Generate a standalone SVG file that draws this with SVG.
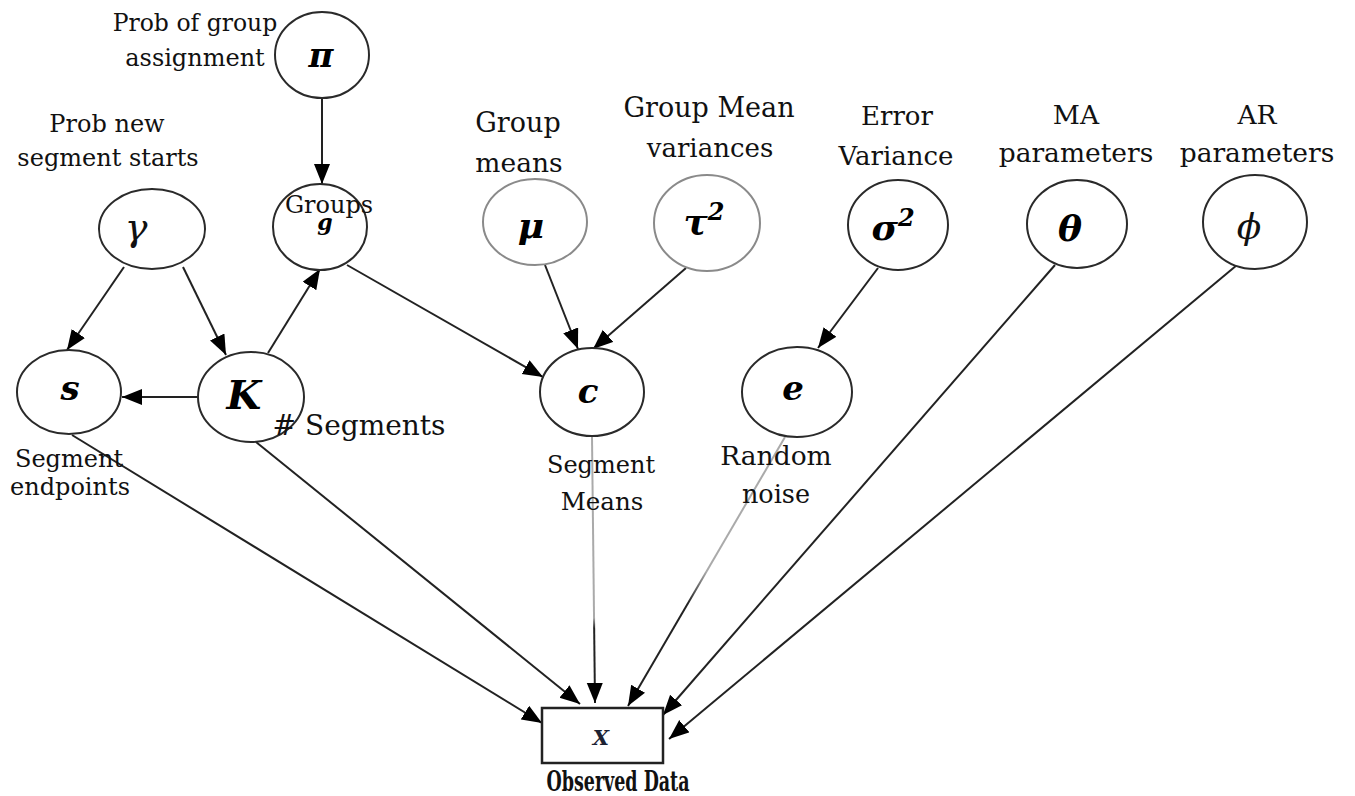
<svg xmlns="http://www.w3.org/2000/svg" width="1355" height="796" viewBox="0 0 1355 796">
<style>
.node{fill:#fff;stroke:#2a2a2a;stroke-width:2}
.light{stroke:#8a8a8a}
.lbl{font-family:"DejaVu Serif","Liberation Serif",serif;fill:#111;text-anchor:middle}
.sym{font-family:"DejaVu Serif","Liberation Serif",serif;font-weight:bold;font-style:italic;fill:#000;text-anchor:middle}
.edge{stroke:#222;stroke-width:2;fill:none;marker-end:url(#arr)}
</style>
<defs>
<marker id="arr" markerUnits="userSpaceOnUse" markerWidth="21" markerHeight="17" refX="20" refY="8" orient="auto">
<path d="M0,0 L20,8 L0,16 z" fill="#000"/>
</marker>
<linearGradient id="gc" gradientUnits="userSpaceOnUse" x1="592" y1="437" x2="595" y2="703">
<stop offset="0" stop-color="#aaa"/><stop offset="0.68" stop-color="#aaa"/><stop offset="0.72" stop-color="#222"/><stop offset="1" stop-color="#222"/>
</linearGradient>
<linearGradient id="ge" gradientUnits="userSpaceOnUse" x1="785" y1="437" x2="628" y2="706">
<stop offset="0" stop-color="#aaa"/><stop offset="0.5" stop-color="#aaa"/><stop offset="0.62" stop-color="#222"/><stop offset="1" stop-color="#222"/>
</linearGradient>
</defs>
<rect width="1355" height="796" fill="#fff"/>
<g id="connectors">
<line class="edge" x1="322" y1="98" x2="322" y2="184"/>
<line class="edge" x1="124" y1="267" x2="67" y2="350"/>
<line class="edge" x1="183" y1="267" x2="226" y2="355"/>
<line class="edge" x1="198" y1="397" x2="122" y2="397"/>
<line class="edge" x1="268" y1="353" x2="320" y2="269"/>
<line class="edge" x1="347" y1="265" x2="543" y2="377"/>
<line class="edge" x1="545" y1="265" x2="578" y2="349"/>
<line class="edge" x1="686" y1="268" x2="593" y2="349"/>
<line class="edge" x1="878" y1="268" x2="818" y2="348"/>
<line class="edge" x1="72" y1="435" x2="542" y2="723"/>
<line class="edge" x1="256" y1="442" x2="580" y2="704"/>
<line class="edge" x1="592" y1="437" x2="595" y2="703" style="stroke:url(#gc)"/>
<line class="edge" x1="785" y1="437" x2="628" y2="706" style="stroke:url(#ge)"/>
<line class="edge" x1="1055" y1="265" x2="663" y2="715"/>
<line class="edge" x1="1237" y1="265" x2="669" y2="739"/>
</g>
<g id="node-pi">
<ellipse class="node" cx="322" cy="55" rx="47" ry="43"/>
<text class="sym" x="321" y="67" font-size="34" font-style="normal">π</text>
<text class="lbl" x="195" y="31" font-size="23.5">Prob of group</text>
<text class="lbl" x="195" y="66" font-size="24">assignment</text>
</g>
<g id="node-gamma">
<ellipse class="node" cx="152" cy="229" rx="53" ry="40"/>
<text class="lbl" x="136" y="240" font-size="38" font-style="italic">γ</text>
<text class="lbl" x="107" y="132" font-size="24">Prob new</text>
<text class="lbl" x="108" y="166" font-size="24">segment starts</text>
</g>
<g id="node-g">
<ellipse class="node" cx="320" cy="227" rx="47" ry="43"/>
<text class="lbl" x="329" y="213" font-size="24">Groups</text>
<text class="sym" x="325" y="230" font-size="22">g</text>
</g>
<g id="node-mu">
<ellipse class="node light" cx="535" cy="222" rx="52" ry="43"/>
<text class="sym" x="531" y="238" font-size="36">μ</text>
<text class="lbl" x="518" y="132" font-size="27">Group</text>
<text class="lbl" x="519" y="172" font-size="26.5">means</text>
</g>
<g id="node-tau">
<ellipse class="node light" cx="707" cy="223" rx="53" ry="48"/>
<text class="sym" x="704" y="234" font-size="36">τ<tspan font-size="24" dy="-14">2</tspan></text>
<text class="lbl" x="709" y="117" font-size="27">Group Mean</text>
<text class="lbl" x="710" y="157" font-size="26">variances</text>
</g>
<g id="node-sigma">
<ellipse class="node" cx="898" cy="225" rx="50" ry="45"/>
<text class="sym" x="893" y="240" font-size="36">σ<tspan font-size="24" dy="-14">2</tspan></text>
<text class="lbl" x="897" y="125" font-size="26">Error</text>
<text class="lbl" x="896" y="165" font-size="26">Variance</text>
</g>
<g id="node-theta">
<ellipse class="node" cx="1077" cy="224" rx="50" ry="44"/>
<text class="sym" x="1070" y="241" font-size="36">θ</text>
<text class="lbl" x="1076" y="124" font-size="26.5">MA</text>
<text class="lbl" x="1076" y="162" font-size="26.5">parameters</text>
</g>
<g id="node-phi">
<ellipse class="node" cx="1255" cy="222" rx="52" ry="47"/>
<text class="lbl" x="1249" y="239" font-size="36" font-style="italic">ϕ</text>
<text class="lbl" x="1257" y="124" font-size="26.5">AR</text>
<text class="lbl" x="1257" y="162" font-size="26.5">parameters</text>
</g>
<g id="node-s">
<ellipse class="node" cx="69" cy="392" rx="52" ry="42"/>
<text class="sym" x="70" y="400" font-size="34">s</text>
<text class="lbl" x="69" y="467" font-size="24">Segment</text>
<text class="lbl" x="70" y="495" font-size="24">endpoints</text>
</g>
<g id="node-K">
<ellipse class="node" cx="251" cy="397" rx="53" ry="45"/>
<text class="sym" x="244" y="409" font-size="40">K</text>
<text class="lbl" x="359" y="435" font-size="28">#&#160;Segments</text>
</g>
<g id="node-c">
<ellipse class="node" cx="592" cy="392" rx="52" ry="44"/>
<text class="sym" x="588" y="403" font-size="34">c</text>
<text class="lbl" x="601" y="473" font-size="24">Segment</text>
<text class="lbl" x="602" y="510" font-size="24.5">Means</text>
</g>
<g id="node-e">
<ellipse class="node" cx="797" cy="392" rx="55" ry="45"/>
<text class="sym" x="793" y="400" font-size="34">e</text>
<text class="lbl" x="776" y="465" font-size="26.5">Random</text>
<text class="lbl" x="776" y="503" font-size="25.5">noise</text>
</g>
<g id="node-X">
<rect x="542" y="708" width="121" height="55" fill="#fff" stroke="#222" stroke-width="2.5"/>
<text x="601" y="745" font-family="'DejaVu Serif','Liberation Serif',serif" font-style="italic" font-weight="bold" font-size="21" fill="#1c2233" text-anchor="middle">X</text>
<text x="618" y="791" font-family="'DejaVu Serif','Liberation Serif',serif" font-weight="bold" font-size="28" fill="#111" text-anchor="middle" textLength="143" lengthAdjust="spacingAndGlyphs">Observed Data</text>
</g>
</svg>
